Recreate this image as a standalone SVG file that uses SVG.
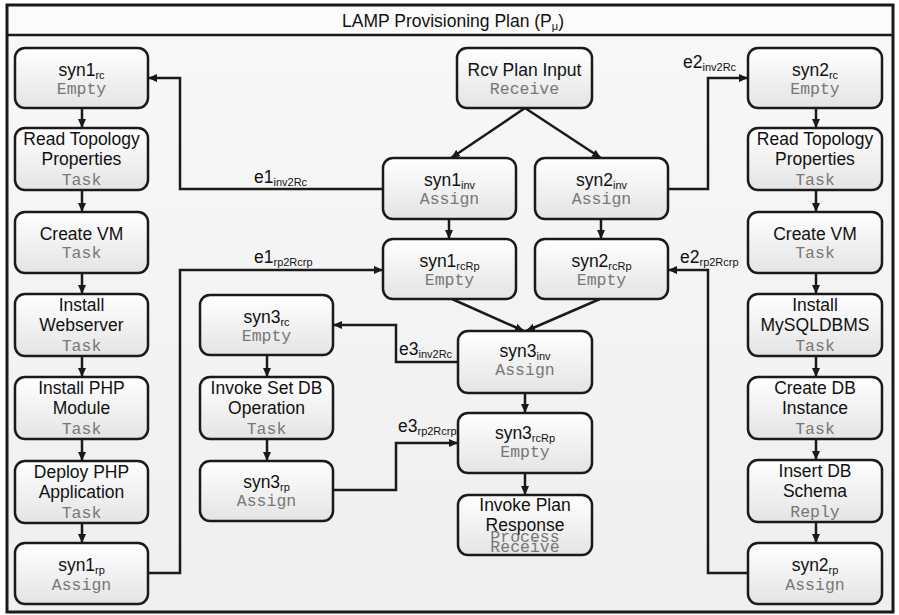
<svg xmlns="http://www.w3.org/2000/svg" width="899" height="615" viewBox="0 0 899 615">
<defs>
<linearGradient id="ng" x1="0" y1="0" x2="0" y2="1">
<stop offset="0" stop-color="#ffffff"/>
<stop offset="1" stop-color="#e4e4e4"/>
</linearGradient>
<linearGradient id="bg" x1="0" y1="0" x2="0" y2="1">
<stop offset="0" stop-color="#f8f8f8"/>
<stop offset="1" stop-color="#efefef"/>
</linearGradient>
<marker id="ah" markerUnits="userSpaceOnUse" markerWidth="10" markerHeight="10" viewBox="0 0 10 10" refX="9" refY="5" orient="auto">
<path d="M0,1 L9,5 L0,9 Z" fill="#1a1a1a"/>
</marker>
</defs>
<style>
.box{fill:url(#ng);stroke:#1a1a1a;stroke-width:2.5}
.t{font-family:"Liberation Sans",Arial,sans-serif;font-size:17.5px;fill:#111;text-anchor:middle}
.ty{font-family:"Liberation Mono","Courier New",monospace;font-size:16.5px;fill:#777;text-anchor:middle}
.sub{font-size:11px}
.el{font-family:"Liberation Sans",Arial,sans-serif;font-size:17.5px;fill:#111}
.c{fill:none;stroke:#1a1a1a;stroke-width:2.5;marker-end:url(#ah)}
</style>
<rect x="0" y="0" width="899" height="615" fill="#ffffff"/>
<rect x="7" y="5" width="886" height="607" fill="url(#bg)"/>
<rect x="7" y="5" width="886" height="30" fill="#fbfbfb"/>
<rect x="7" y="5" width="886" height="607" fill="none" stroke="#1a1a1a" stroke-width="3"/>
<line x1="7" y1="35" x2="893" y2="35" stroke="#1a1a1a" stroke-width="2.5"/>
<text x="453" y="27" class="t">LAMP Provisioning Plan (P<tspan class="sub" dy="3">μ</tspan><tspan dy="-3">)</tspan></text>

<g id="connectors">
<line class="c" x1="82" y1="108" x2="82" y2="128"/>
<line class="c" x1="82" y1="190" x2="82" y2="212"/>
<line class="c" x1="82" y1="273" x2="82" y2="294"/>
<line class="c" x1="82" y1="356" x2="82" y2="377"/>
<line class="c" x1="82" y1="439" x2="82" y2="461"/>
<line class="c" x1="82" y1="523" x2="82" y2="543"/>
<line class="c" x1="816" y1="108" x2="816" y2="128"/>
<line class="c" x1="816" y1="190" x2="816" y2="212"/>
<line class="c" x1="816" y1="273" x2="816" y2="294"/>
<line class="c" x1="816" y1="356" x2="816" y2="377"/>
<line class="c" x1="816" y1="439" x2="816" y2="460"/>
<line class="c" x1="816" y1="522" x2="816" y2="543"/>
<line class="c" x1="525" y1="108" x2="451" y2="158"/>
<line class="c" x1="525" y1="108" x2="601" y2="158"/>
<line class="c" x1="449" y1="219" x2="449" y2="239"/>
<line class="c" x1="601" y1="219" x2="601" y2="239"/>
<line class="c" x1="452" y1="299" x2="524" y2="331"/>
<line class="c" x1="600" y1="299" x2="526" y2="331"/>
<line class="c" x1="525" y1="393" x2="525" y2="413"/>
<line class="c" x1="525" y1="473" x2="525" y2="495"/>
<line class="c" x1="267" y1="355" x2="267" y2="377"/>
<line class="c" x1="267" y1="439" x2="267" y2="461"/>
<polyline class="c" points="383,189 180,189 180,78 148,78"/>
<polyline class="c" points="668,189 708,189 708,78 748,78"/>
<polyline class="c" points="148,573 180,573 180,270 383,270"/>
<polyline class="c" points="748,573 708,573 708,270 668,270"/>
<polyline class="c" points="458,362 396,362 396,325 333,325"/>
<polyline class="c" points="333,490 396,490 396,443 458,443"/>
<text class="el" x="254" y="183">e1<tspan class="sub" dy="3">inv2Rc</tspan></text>
<text class="el" x="683" y="68">e2<tspan class="sub" dy="3">inv2Rc</tspan></text>
<text class="el" x="254" y="263">e1<tspan class="sub" dy="3">rp2Rcrp</tspan></text>
<text class="el" x="680" y="263">e2<tspan class="sub" dy="3">rp2Rcrp</tspan></text>
<text class="el" x="399" y="355">e3<tspan class="sub" dy="3">inv2Rc</tspan></text>
<text class="el" x="398" y="432">e3<tspan class="sub" dy="3">rp2Rcrp</tspan></text>
</g>

<g id="n_syn1rc"><rect class="box" x="15" y="48" width="133" height="60" rx="10"/>
<text class="t" x="81.5" y="76">syn1<tspan class="sub" dy="3">rc</tspan></text><text class="ty" x="81.5" y="94">Empty</text></g>
<g id="n_readtopo1"><rect class="box" x="15" y="128" width="133" height="62" rx="10"/>
<text class="t" x="81.5" y="145">Read Topology</text><text class="t" x="81.5" y="165">Properties</text><text class="ty" x="81.5" y="185">Task</text></g>
<g id="n_createvm1"><rect class="box" x="15" y="212" width="133" height="61" rx="10"/>
<text class="t" x="81.5" y="240">Create VM</text><text class="ty" x="81.5" y="258">Task</text></g>
<g id="n_webserver"><rect class="box" x="15" y="294" width="133" height="62" rx="10"/>
<text class="t" x="81.5" y="311">Install</text><text class="t" x="81.5" y="331">Webserver</text><text class="ty" x="81.5" y="351">Task</text></g>
<g id="n_php"><rect class="box" x="15" y="377" width="133" height="62" rx="10"/>
<text class="t" x="81.5" y="394">Install PHP</text><text class="t" x="81.5" y="414">Module</text><text class="ty" x="81.5" y="434">Task</text></g>
<g id="n_deploy"><rect class="box" x="15" y="461" width="133" height="62" rx="10"/>
<text class="t" x="81.5" y="478">Deploy PHP</text><text class="t" x="81.5" y="498">Application</text><text class="ty" x="81.5" y="518">Task</text></g>
<g id="n_syn1rp"><rect class="box" x="15" y="543" width="133" height="61" rx="10"/>
<text class="t" x="81.5" y="571">syn1<tspan class="sub" dy="3">rp</tspan></text><text class="ty" x="81.5" y="590">Assign</text></g>

<g id="n_syn2rc"><rect class="box" x="748" y="48" width="134" height="60" rx="10"/>
<text class="t" x="815" y="76">syn2<tspan class="sub" dy="3">rc</tspan></text><text class="ty" x="815" y="94">Empty</text></g>
<g id="n_readtopo2"><rect class="box" x="748" y="128" width="134" height="62" rx="10"/>
<text class="t" x="815" y="145">Read Topology</text><text class="t" x="815" y="165">Properties</text><text class="ty" x="815" y="185">Task</text></g>
<g id="n_createvm2"><rect class="box" x="748" y="212" width="134" height="61" rx="10"/>
<text class="t" x="815" y="240">Create VM</text><text class="ty" x="815" y="258">Task</text></g>
<g id="n_mysql"><rect class="box" x="748" y="294" width="134" height="62" rx="10"/>
<text class="t" x="815" y="311">Install</text><text class="t" x="815" y="331">MySQLDBMS</text><text class="ty" x="815" y="351">Task</text></g>
<g id="n_createdb"><rect class="box" x="748" y="377" width="134" height="62" rx="10"/>
<text class="t" x="815" y="394">Create DB</text><text class="t" x="815" y="414">Instance</text><text class="ty" x="815" y="434">Task</text></g>
<g id="n_insertdb"><rect class="box" x="748" y="460" width="134" height="62" rx="10"/>
<text class="t" x="815" y="477">Insert DB</text><text class="t" x="815" y="497">Schema</text><text class="ty" x="815" y="517">Reply</text></g>
<g id="n_syn2rp"><rect class="box" x="748" y="543" width="134" height="61" rx="10"/>
<text class="t" x="815" y="571">syn2<tspan class="sub" dy="3">rp</tspan></text><text class="ty" x="815" y="590">Assign</text></g>

<g id="n_rcv"><rect class="box" x="457" y="48" width="135" height="60" rx="10"/>
<text class="t" x="524.5" y="76">Rcv Plan Input</text><text class="ty" x="524.5" y="94">Receive</text></g>
<g id="n_syn1inv"><rect class="box" x="383" y="158" width="133" height="61" rx="10"/>
<text class="t" x="449.5" y="186">syn1<tspan class="sub" dy="3">inv</tspan></text><text class="ty" x="449.5" y="204">Assign</text></g>
<g id="n_syn2inv"><rect class="box" x="535" y="158" width="133" height="61" rx="10"/>
<text class="t" x="601.5" y="186">syn2<tspan class="sub" dy="3">inv</tspan></text><text class="ty" x="601.5" y="204">Assign</text></g>
<g id="n_syn1rcrp"><rect class="box" x="383" y="239" width="133" height="60" rx="10"/>
<text class="t" x="449.5" y="267">syn1<tspan class="sub" dy="3">rcRp</tspan></text><text class="ty" x="449.5" y="285">Empty</text></g>
<g id="n_syn2rcrp"><rect class="box" x="535" y="239" width="133" height="60" rx="10"/>
<text class="t" x="601.5" y="267">syn2<tspan class="sub" dy="3">rcRp</tspan></text><text class="ty" x="601.5" y="285">Empty</text></g>
<g id="n_syn3rc"><rect class="box" x="200" y="295" width="133" height="60" rx="10"/>
<text class="t" x="266.5" y="323">syn3<tspan class="sub" dy="3">rc</tspan></text><text class="ty" x="266.5" y="341">Empty</text></g>
<g id="n_setdb"><rect class="box" x="200" y="377" width="133" height="62" rx="10"/>
<text class="t" x="266.5" y="394">Invoke Set DB</text><text class="t" x="266.5" y="414">Operation</text><text class="ty" x="266.5" y="434">Task</text></g>
<g id="n_syn3rp"><rect class="box" x="200" y="461" width="133" height="60" rx="10"/>
<text class="t" x="266.5" y="488">syn3<tspan class="sub" dy="3">rp</tspan></text><text class="ty" x="266.5" y="506">Assign</text></g>
<g id="n_syn3inv"><rect class="box" x="458" y="331" width="134" height="62" rx="10"/>
<text class="t" x="525" y="357">syn3<tspan class="sub" dy="3">inv</tspan></text><text class="ty" x="525" y="375">Assign</text></g>
<g id="n_syn3rcrp"><rect class="box" x="458" y="413" width="134" height="60" rx="10"/>
<text class="t" x="525" y="439">syn3<tspan class="sub" dy="3">rcRp</tspan></text><text class="ty" x="525" y="457">Empty</text></g>
<g id="n_invresp"><rect class="box" x="458" y="495" width="134" height="60" rx="10"/>
<text class="t" x="525" y="511">Invoke Plan</text><text class="t" x="525" y="531">Response</text><text class="ty" x="525" y="542">Process</text><text class="ty" x="525" y="552">Receive</text></g>
</svg>
